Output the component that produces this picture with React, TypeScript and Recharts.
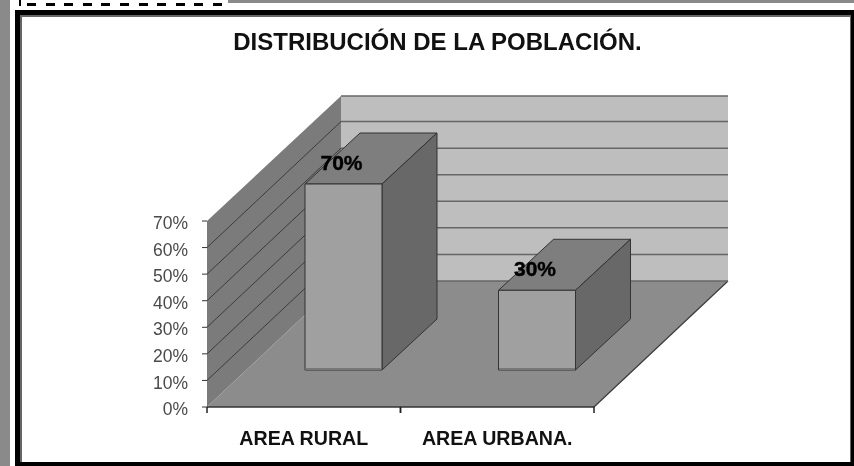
import { BarChart, Bar, XAxis, YAxis, ReferenceArea, LabelList } from 'recharts';

// valores
const categorias = ['AREA RURAL', 'AREA URBANA.'];
const poblacion = [70, 30];
const marcasY = [0, 10, 20, 30, 40, 50, 60, 70];
const titulo = 'DISTRIBUCIÓN DE LA POBLACIÓN.';

const datos = categorias.map((nombre, i) => ({ nombre, poblacion: poblacion[i] }));

const FONT = '"Liberation Sans", Arial, sans-serif';
// profundidad de la perspectiva 3D
const FONDO_X = 134;
const FONDO_Y = 126;
const BARRA_X = 40;
const BARRA_Y = 37;
const BARRA_PROF_X = 55;
const BARRA_PROF_Y = 51;
const ANCHO_BANDA = 193.5;

const pts = (...p: number[][]) => p.map((q) => q.join(',')).join(' ');

function Paredes({ x, y, width, height }: any) {
  const base = y + height;
  const der = x + width;
  return (
    <g>
      <polygon points={pts([x + FONDO_X, y - FONDO_Y + 1], [der + FONDO_X, y - FONDO_Y + 1], [der + FONDO_X, base - FONDO_Y], [x + FONDO_X, base - FONDO_Y])} fill="#bebebe" />
      <polygon points={pts([x, y], [x + FONDO_X, y - FONDO_Y + 1], [x + FONDO_X, base - FONDO_Y], [x, base])} fill="#7b7b7b" />
      <polygon points={pts([x, base], [der, base], [der + FONDO_X, base - FONDO_Y], [x + FONDO_X, base - FONDO_Y])} fill="#8c8c8c" />
      <line x1={der} y1={base} x2={der + FONDO_X} y2={base - FONDO_Y} stroke="#3a3a3a" strokeWidth={1.2} />
    </g>
  );
}

// linea guia: diagonal en la pared lateral y horizontal en la del fondo
function LineaGuia({ x, y, width, esTope, esBase }: any) {
  const fy = y - FONDO_Y + (esTope ? 1 : 0);
  return (
    <g fill="none">
      {!esTope && !esBase && <line x1={x} y1={y} x2={x + FONDO_X} y2={fy} stroke="#3c3c3c" strokeWidth={1} />}
      <line x1={x + FONDO_X} y1={fy} x2={x + width + FONDO_X} y2={fy} stroke="#666666" strokeWidth={1.5} />
    </g>
  );
}

function Barra3D({ x, y, width, height }: any) {
  const fx = x + BARRA_X;
  const fy = y - BARRA_Y;
  const dx = BARRA_PROF_X;
  const dy = BARRA_PROF_Y;
  return (
    <g stroke="#333333" strokeWidth={1} strokeLinejoin="round">
      <polygon points={pts([fx, fy], [fx + dx, fy - dy], [fx + width + dx, fy - dy], [fx + width, fy])} fill="#7e7e7e" />
      <polygon points={pts([fx + width, fy], [fx + width + dx, fy - dy], [fx + width + dx, fy + height - dy], [fx + width, fy + height])} fill="#686868" />
      <rect x={fx} y={fy} width={width} height={height} fill="#a0a0a0" />
      <rect x={fx + 0.5} y={fy + height - 2} width={width - 1} height={2} fill="#777777" stroke="none" />
    </g>
  );
}

function EtiquetaBarra({ x, y, width, value }: any) {
  return (
    <text x={x + BARRA_X + width / 2 - 2} y={y - BARRA_Y - 14} textAnchor="middle" fontFamily={FONT} fontSize={21} fontWeight="bold" fill="#000" stroke="#000" strokeWidth={0.4}>
      {value}%
    </text>
  );
}

function TickCategoria({ x, y, payload }: any) {
  return (
    <g>
      <line x1={x - ANCHO_BANDA / 2} y1={y} x2={x - ANCHO_BANDA / 2} y2={y + 6} stroke="#222" strokeWidth={1.5} />
      <line x1={x + ANCHO_BANDA / 2} y1={y} x2={x + ANCHO_BANDA / 2} y2={y + 6} stroke="#222" strokeWidth={1.5} />
      <text x={x} y={y + 38} textAnchor="middle" fontFamily={FONT} fontSize={19.6} fontWeight="bold" fill="#111">
        {payload.value}
      </text>
    </g>
  );
}

export default function App() {
  return (
    <div style={{ position: 'absolute', left: 0, top: 0, width: 854, height: 466, background: '#fff', overflow: 'hidden', filter: 'blur(0.4px)' }}>
      {/* marco de la captura */}
      <div style={{ position: 'absolute', left: 0, top: 0, width: 10, height: 466, background: '#8a8a8a' }} />
      <div style={{ position: 'absolute', left: 228, top: 0, width: 626, height: 3, background: '#8a8a8a' }} />
      <div style={{ position: 'absolute', left: 19, top: 0, width: 2, height: 6, background: '#000' }} />
      <div style={{ position: 'absolute', left: 27, top: 3, width: 199, height: 3, backgroundImage: 'repeating-linear-gradient(90deg,#000 0 9px,#fff 9px 18.6px)' }} />
      <div style={{ position: 'absolute', left: 15, top: 10, width: 839, height: 456, background: '#000' }} />
      <div style={{ position: 'absolute', left: 20, top: 15, width: 831, height: 447, background: '#666' }} />
      <div style={{ position: 'absolute', left: 22, top: 17, width: 828, height: 445, background: '#fff' }} />

      <div style={{ position: 'absolute', left: 0, top: 0 }}>
        <BarChart width={854} height={466} data={datos} barSize={77} margin={{ top: 221, right: 260, bottom: 0, left: 0 }}>
          <XAxis
            dataKey="nombre"
            height={59}
            interval={0}
            axisLine={{ stroke: '#333', strokeWidth: 1.5 }}
            tickLine={false}
            tickSize={0}
            tickMargin={0}
            tick={<TickCategoria />}
          />
          <YAxis
            width={207}
            domain={[0, 70]}
            ticks={marcasY}
            interval={0}
            axisLine={false}
            tickLine={{ stroke: '#333' }}
            tickSize={5}
            tickMargin={14}
            tickFormatter={(v: number) => `${v}%`}
            tick={{ fontFamily: FONT, fontSize: 17.5, fill: '#4a4a4a', dy: 2 }}
          />
          <ReferenceArea y1={0} y2={70} ifOverflow="visible" shape={<Paredes />} />
          {marcasY.map((t) => (
            <ReferenceArea
              key={t}
              y1={t}
              y2={t}
              ifOverflow="visible"
              shape={<LineaGuia esTope={t === 70} esBase={t === 0} />}
            />
          ))}
          <Bar dataKey="poblacion" isAnimationActive={false} shape={<Barra3D />}>
            <LabelList dataKey="poblacion" content={<EtiquetaBarra />} />
          </Bar>
          <text x={437.5} y={50} textAnchor="middle" fontFamily={FONT} fontSize={24} fontWeight="bold" fill="#111">
            {titulo}
          </text>
        </BarChart>
      </div>
    </div>
  );
}
